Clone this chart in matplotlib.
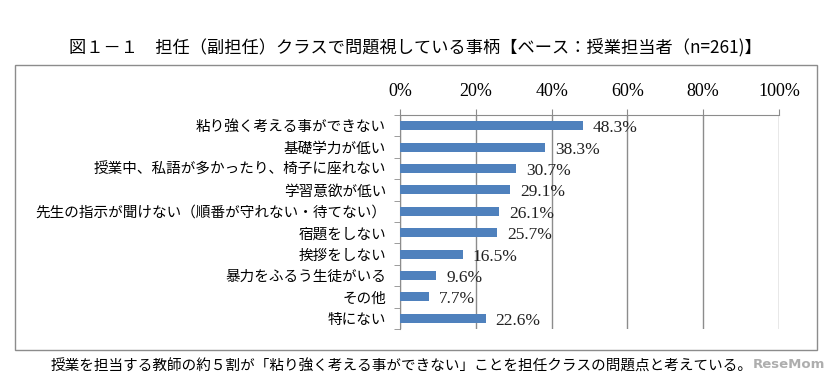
import numpy as np
import matplotlib.pyplot as plt
from matplotlib.patches import Rectangle
from matplotlib.ticker import FixedLocator

# data
labels = [
    "粘り強く考える事ができない",
    "基礎学力が低い",
    "授業中、私語が多かったり、椅子に座れない",
    "学習意欲が低い",
    "先生の指示が聞けない（順番が守れない・待てない）",
    "宿題をしない",
    "挨拶をしない",
    "暴力をふるう生徒がいる",
    "その他",
    "特にない",
]
values = [48.3, 38.3, 30.7, 29.1, 26.1, 25.7, 16.5, 9.6, 7.7, 22.6]
xticks = [0, 20, 40, 60, 80, 100]

title = "図１－１　担任（副担任）クラスで問題視している事柄【ベース：授業担当者（n=261)】"
caption = "授業を担当する教師の約５割が「粘り強く考える事ができない」ことを担任クラスの問題点と考えている。"

jp = ["Noto Sans CJK JP", "DejaVu Sans"]
num = ["Liberation Serif", "DejaVu Serif"]
plt.rcParams["font.family"] = jp

W, H = 827, 381
fig = plt.figure(figsize=(W / 100, H / 100), dpi=100)

# outer frame around the chart
fig.patches.append(Rectangle((15 / W, 1 - 350 / H), 802 / W, 285 / H,
                             transform=fig.transFigure, fill=False,
                             edgecolor="#8c8c8c", linewidth=1.0))

ax = fig.add_axes([400 / W, 1 - 329 / H, 379 / W, 214 / H])
grey = "#8c8c8c"

y = np.arange(len(labels))
ax.barh(y, values, height=0.42, color="#4f81bd", zorder=3)
for yi, v in zip(y, values):
    ax.text(v + 2.6, yi + 0.12, f"{v:.1f}%", va="center", ha="left",
            fontsize=12.5, family=num, color="#222222", zorder=4)

ax.set_xlim(0, 100)
ax.set_ylim(len(labels) - 0.5, -0.5)

ax.xaxis.tick_top()
ax.set_xticks(xticks)
ax.set_xticklabels([f"{t}%" for t in xticks], family=num, fontsize=13)
ax.tick_params(axis="x", length=4, color=grey, pad=7)
ax.grid(axis="x", color=grey, linewidth=1.0, zorder=0)

ax.set_yticks(y)
ax.set_yticklabels(labels, fontsize=10.5)
ax.yaxis.set_minor_locator(FixedLocator(np.arange(-0.5, len(labels), 1.0)))
ax.tick_params(axis="y", which="major", length=0, pad=10)
ax.tick_params(axis="y", which="minor", length=4, color=grey)

for s in ["right", "bottom"]:
    ax.spines[s].set_visible(False)
for s in ["left", "top"]:
    ax.spines[s].set_color(grey)

fig.text(415 / W, 1 - 47 / H, title, ha="center", va="center", fontsize=12.4)
fig.text(402 / W, 1 - 367 / H, caption, ha="center", va="center", fontsize=10.5)
fig.text(825 / W, 1 - 364 / H, "ReseMom", ha="right", va="center",
         fontsize=9.5, fontweight="bold", color="#9a9a9a", family="DejaVu Sans",
         alpha=0.8)

fig.savefig("out.png", dpi=100)
